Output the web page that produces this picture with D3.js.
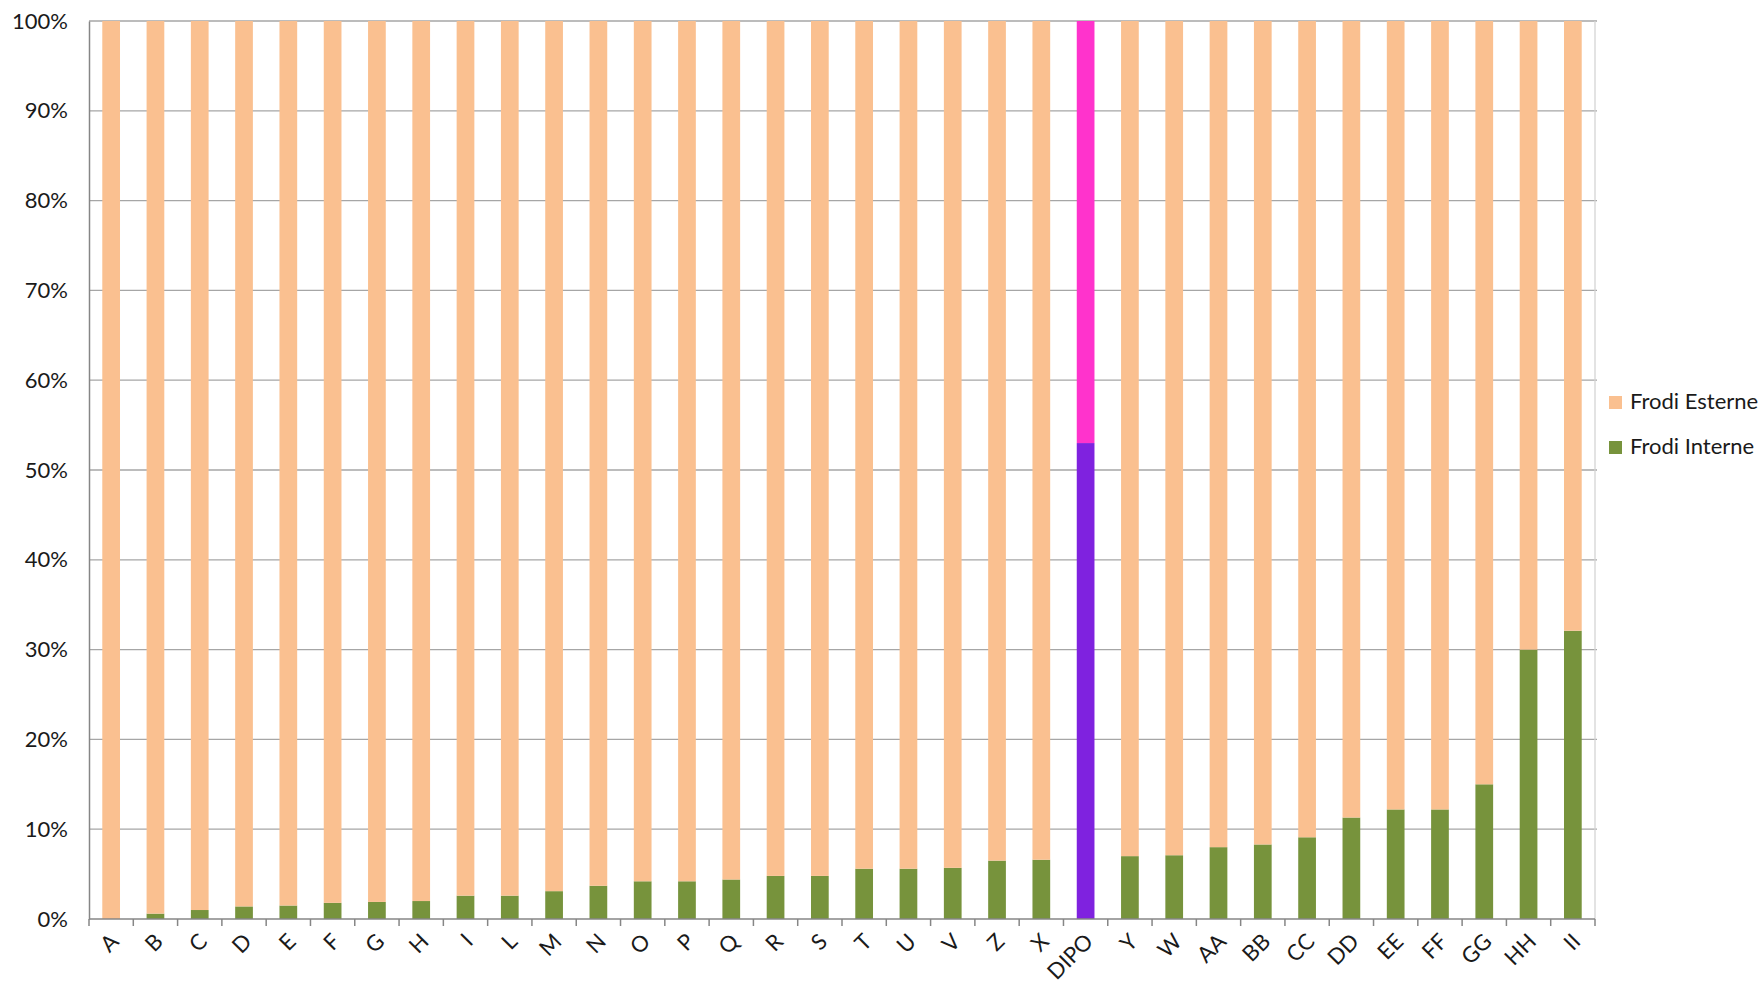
<!DOCTYPE html>
<html>
<head>
<meta charset="utf-8">
<script src="https://cdn.jsdelivr.net/npm/d3@7"></script>
<style>
  body { margin: 0; background: #fff; }
  svg { font-family: Lato, "Open Sans", sans-serif; }
</style>
</head>
<body>
<div id="chart"></div>
<script>
// categories and shares (%)
const categories = ["A", "B", "C", "D", "E", "F", "G", "H", "I", "L", "M", "N", "O", "P", "Q", "R", "S",
  "T", "U", "V", "Z", "X", "DIPO", "Y", "W", "AA", "BB", "CC", "DD", "EE", "FF", "GG", "HH", "II"];
const frodiInterne = [0, 0.6, 1.0, 1.4, 1.5, 1.8, 1.9, 2.0, 2.6, 2.6, 3.1, 3.7, 4.2, 4.2, 4.4, 4.8, 4.8,
  5.6, 5.6, 5.7, 6.5, 6.6, 53.0, 7.0, 7.1, 8.0, 8.3, 9.1, 11.3, 12.2, 12.2, 15.0, 30.0, 32.1];
const frodiEsterne = frodiInterne.map(v => 100 - v);
const yTicks = [0, 10, 20, 30, 40, 50, 60, 70, 80, 90, 100];
const highlight = "DIPO";

const width = 1764;
const height = 985;
const marginTop = 21;
const marginRight = 169;
const marginBottom = 66;
const marginLeft = 89;

const colors = {
  esterne: "#fac090",
  interne: "#77933c",
  esterneHi: "#ff33cc",
  interneHi: "#7f22df"
};

const x = d3.scaleBand()
  .domain(categories)
  .range([marginLeft, width - marginRight])
  .paddingInner(0.6)
  .paddingOuter(0.3);

const y = d3.scaleLinear()
  .domain([0, 100])
  .range([height - marginBottom, marginTop]);

const svg = d3.select("#chart")
  .append("svg")
  .attr("width", width)
  .attr("height", height)
  .attr("viewBox", [0, 0, width, height]);

// gridlines
svg.append("g")
  .selectAll("line")
  .data(yTicks.filter(d => d > 0))
  .join("line")
  .attr("x1", marginLeft)
  .attr("x2", width - marginRight + 2)
  .attr("y1", d => y(d))
  .attr("y2", d => y(d))
  .attr("stroke", "#a6a6a6")
  .attr("stroke-width", 1.3);

// right border of the plot area
svg.append("line")
  .attr("x1", width - marginRight)
  .attr("x2", width - marginRight)
  .attr("y1", y(100))
  .attr("y2", y(0))
  .attr("stroke", "#d4d4d4")
  .attr("stroke-width", 1.3);

const rows = categories.map((c, i) => ({ name: c, interne: frodiInterne[i], esterne: frodiEsterne[i] }));

// stacked bars
const bars = svg.append("g")
  .selectAll("g")
  .data(rows)
  .join("g");

bars.append("rect")
  .attr("x", d => x(d.name))
  .attr("width", x.bandwidth())
  .attr("y", d => y(d.interne))
  .attr("height", d => y(0) - y(d.interne))
  .attr("fill", d => d.name === highlight ? colors.interneHi : colors.interne);

bars.append("rect")
  .attr("x", d => x(d.name))
  .attr("width", x.bandwidth())
  .attr("y", d => y(d.interne + d.esterne))
  .attr("height", d => y(d.interne) - y(d.interne + d.esterne))
  .attr("fill", d => d.name === highlight ? colors.esterneHi : colors.esterne);

// y axis
svg.append("g")
  .attr("transform", `translate(${marginLeft},0)`)
  .call(d3.axisLeft(y).tickValues(yTicks).tickSize(0).tickPadding(21).tickFormat(d => d + "%"))
  .call(g => g.select(".domain").attr("stroke", "#868686").attr("stroke-width", 1.5))
  .call(g => g.selectAll("text").attr("font-size", 22).attr("fill", "#1a1a1a")
    .attr("font-family", "Lato, 'Open Sans', sans-serif"));

// x axis: ticks sit between categories, like the original
const boundaries = d3.range(categories.length + 1).map(i => marginLeft + i * (width - marginRight - marginLeft) / categories.length);
const xAxis = svg.append("g");
xAxis.append("line")
  .attr("x1", marginLeft)
  .attr("x2", width - marginRight)
  .attr("y1", y(0))
  .attr("y2", y(0))
  .attr("stroke", "#868686")
  .attr("stroke-width", 1.5);
xAxis.selectAll(".tick")
  .data(boundaries)
  .join("line")
  .attr("x1", d => d)
  .attr("x2", d => d)
  .attr("y1", y(0))
  .attr("y2", y(0) + 7)
  .attr("stroke", "#868686")
  .attr("stroke-width", 1.5);

xAxis.selectAll("text")
  .data(categories)
  .join("text")
  .attr("transform", d => `translate(${x(d) + x.bandwidth() / 2 + 5},${y(0) + 20}) rotate(-45)`)
  .attr("text-anchor", "end")
  .attr("dominant-baseline", "middle")
  .attr("font-size", 22)
  .attr("fill", "#1a1a1a")
  .text(d => d);

// legend
const legendItems = [
  { label: "Frodi Esterne", color: colors.esterne },
  { label: "Frodi Interne", color: colors.interne }
];
const legend = svg.append("g")
  .attr("transform", "translate(1609,403)");
legend.selectAll("g")
  .data(legendItems)
  .join("g")
  .attr("transform", (d, i) => `translate(0,${i * 45})`)
  .call(g => g.append("rect")
    .attr("x", 0).attr("y", -7).attr("width", 13).attr("height", 13)
    .attr("fill", d => d.color))
  .call(g => g.append("text")
    .attr("x", 21).attr("y", 0)
    .attr("dominant-baseline", "middle")
    .attr("font-size", 22)
    .attr("fill", "#1a1a1a")
    .text(d => d.label));
</script>
</body>
</html>
